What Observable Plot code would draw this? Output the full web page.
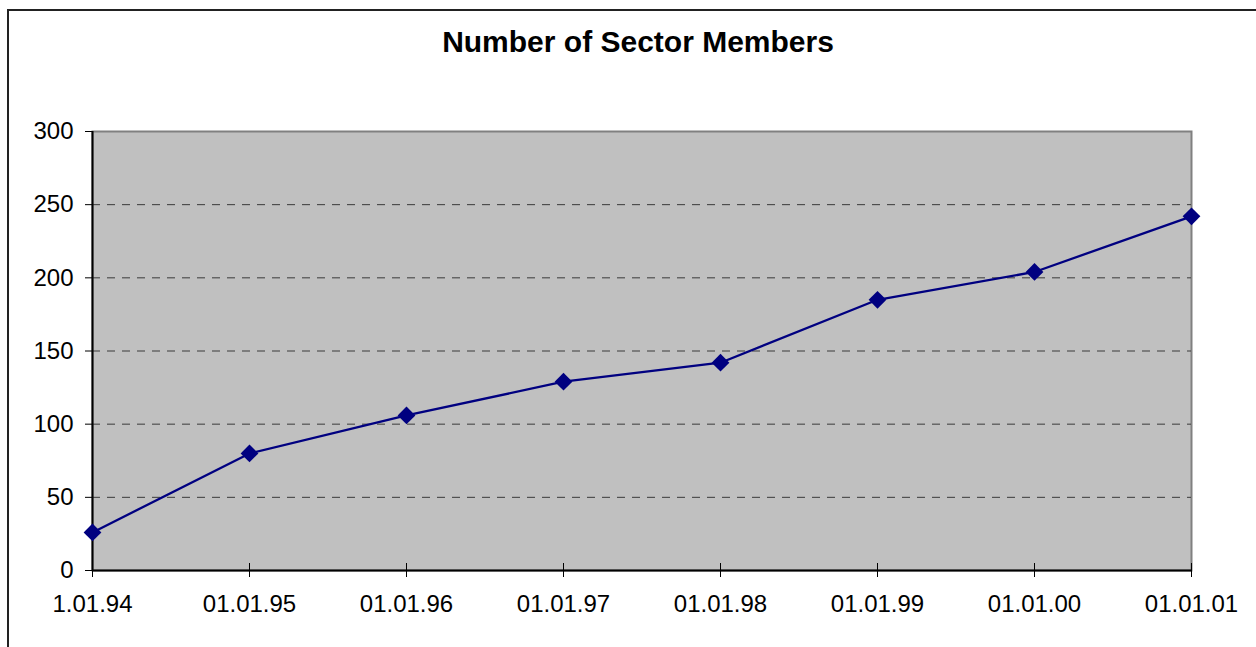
<!DOCTYPE html>
<html>
<head>
<meta charset="utf-8">
<script src="https://cdn.jsdelivr.net/npm/d3@7"></script>
<script src="https://cdn.jsdelivr.net/npm/@observablehq/plot@0.6"></script>
<style>
  html, body { margin: 0; padding: 0; background: #fff; width: 1256px; height: 647px; overflow: hidden; }
  #outer { position: absolute; left: 7px; top: 9px; width: 1400px; height: 800px; border-left: 2px solid #222; border-top: 2px solid #222; box-sizing: border-box; pointer-events: none; }
  #chart { position: absolute; left: 0; top: 0; }
</style>
</head>
<body>
<div id="chart"></div>
<div id="outer"></div>
<script>
const title = "Number of Sector Members";
const dates = ["1.01.94", "01.01.95", "01.01.96", "01.01.97", "01.01.98", "01.01.99", "01.01.00", "01.01.01"];
const members = [26, 80, 106, 129, 142, 185, 204, 242];
const yTicks = [0, 50, 100, 150, 200, 250, 300];
const gridValues = [50, 100, 150, 200, 250];

const data = dates.map((d, i) => ({date: d, value: members[i]}));
const font = "'Liberation Sans', Arial, sans-serif";

const W = 1256, H = 647;
const mTop = 131, mBottom = 77, mLeft = 92, mRight = 65;
const plotH = H - mTop - mBottom;

const chart = Plot.plot({
  width: W,
  height: H,
  marginTop: mTop,
  marginBottom: mBottom,
  marginLeft: mLeft,
  marginRight: mRight,
  style: {fontFamily: font, fontSize: "24px", color: "#000", background: "transparent", overflow: "visible"},
  x: {type: "point", domain: dates, padding: 0},
  y: {domain: [0, 300]},
  marks: [
    Plot.frame({fill: "#c0c0c0", stroke: "#808080", strokeWidth: 2}),
    Plot.ruleY(gridValues, {stroke: "#3a3a3a", strokeWidth: 1, strokeDasharray: "8,7"}),
    Plot.ruleY([0], {stroke: "#000", strokeWidth: 2}),
    Plot.ruleX([dates[0]], {stroke: "#000", strokeWidth: 2}),
    Plot.tickX(dates, {x: d => d, stroke: "#000", strokeWidth: 1, insetTop: plotH - 7}),
    Plot.axisY({ticks: yTicks, tickSize: 7, tickPadding: 12, label: null, fontSize: 24, tickFormat: d => String(d)}),
    Plot.axisX({tickSize: 7, tickPadding: 17, label: null, fontSize: 24}),
    Plot.line(data, {x: "date", y: "value", stroke: "#000080", strokeWidth: 2.3}),
    Plot.dot(data, {x: "date", y: "value", symbol: "diamond2", r: 8, fill: "#000080", stroke: "none"}),
    Plot.text([title], {frameAnchor: "top", dy: -89, dx: -4, lineAnchor: "middle", fontSize: 30, fontWeight: "bold", fill: "#000"})
  ]
});
document.getElementById("chart").appendChild(chart);
</script>
</body>
</html>
